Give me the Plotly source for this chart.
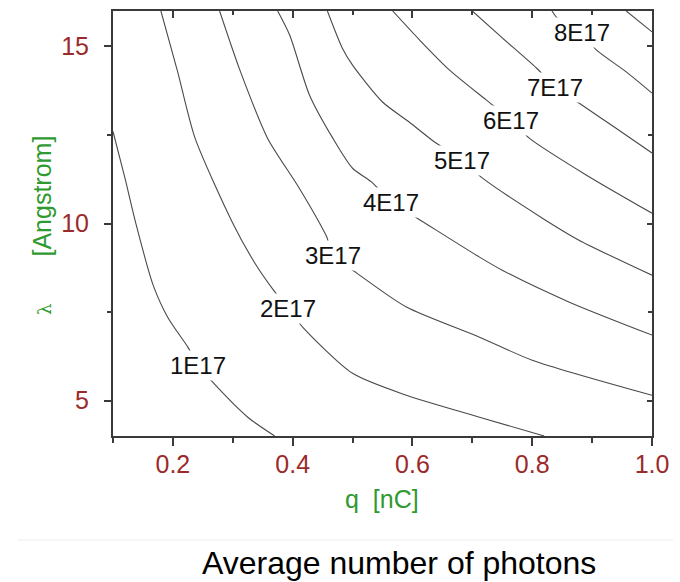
import plotly.graph_objects as go

# ---- data (q in nC, lambda in Angstrom) ----
q_1e17 = [0.100, 0.120, 0.138, 0.167, 0.192, 0.225, 0.242, 0.268, 0.325, 0.370]
lam_1e17 = [12.6, 11.28, 10.01, 8.26, 7.33, 6.51, 6.00, 5.49, 4.53, 4.00]

q_2e17 = [0.180, 0.208, 0.237, 0.300, 0.337, 0.368, 0.392, 0.417, 0.500, 0.590, 0.712, 0.820]
lam_2e17 = [16.0, 14.28, 12.41, 10.01, 8.88, 8.12, 7.61, 7.07, 5.77, 5.15, 4.53, 4.00]

q_3e17 = [0.278, 0.313, 0.358, 0.408, 0.445, 0.457, 0.467, 0.507, 0.590, 0.712, 0.800, 1.000]
lam_3e17 = [16.0, 14.28, 12.41, 11.08, 10.01, 9.62, 9.11, 8.60, 7.64, 6.79, 6.14, 5.15]

q_4e17 = [0.375, 0.395, 0.428, 0.467, 0.500, 0.532, 0.565, 0.608, 0.712, 0.750, 0.862, 1.000]
lam_4e17 = [16.0, 15.32, 13.63, 12.41, 11.56, 11.17, 10.60, 10.15, 9.05, 8.68, 7.78, 6.85]

q_5e17 = [0.458, 0.483, 0.500, 0.550, 0.595, 0.637, 0.682, 0.717, 0.817, 0.878, 1.000]
lam_5e17 = [16.0, 14.95, 14.47, 13.43, 12.86, 12.30, 11.79, 11.28, 10.15, 9.53, 8.54]

q_6e17 = [0.567, 0.612, 0.662, 0.723, 0.765, 0.795, 0.890, 1.000]
lam_6e17 = [16.0, 15.18, 14.33, 13.49, 12.92, 12.41, 11.37, 10.29]

q_7e17 = [0.700, 0.750, 0.807, 0.838, 0.878, 0.940, 1.000]
lam_7e17 = [16.0, 15.24, 14.39, 13.85, 13.40, 12.69, 11.99]

q_8e17 = [0.833, 0.842, 0.883, 0.907, 0.957, 1.000]
lam_8e17 = [16.0, 15.80, 15.38, 14.90, 14.28, 13.68]

q_9e17 = [0.957, 1.000]
lam_9e17 = [16.0, 15.41]

contour_q = [q_1e17, q_2e17, q_3e17, q_4e17, q_5e17, q_6e17, q_7e17, q_8e17, q_9e17]
contour_lam = [lam_1e17, lam_2e17, lam_3e17, lam_4e17, lam_5e17, lam_6e17, lam_7e17, lam_8e17, lam_9e17]

label_text = ["1E17", "2E17", "3E17", "4E17", "5E17", "6E17", "7E17", "8E17"]
label_q = [0.242, 0.392, 0.467, 0.565, 0.682, 0.765, 0.838, 0.883]
label_lam = [6.00, 7.61, 9.11, 10.60, 11.79, 12.92, 13.85, 15.38]

x_ticks = [0.2, 0.4, 0.6, 0.8, 1.0]
y_ticks = [5, 10, 15]

FONT = "Liberation Sans, Arial, sans-serif"
RED = "#9b2a2a"
GREEN = "#2f9a2f"
AXIS = "#3a3a3a"

fig = go.Figure()
for qs, ls in zip(contour_q, contour_lam):
    fig.add_trace(go.Scatter(x=qs, y=ls, mode="lines",
                             line=dict(color="#4a4a4a", width=1.1,
                                       shape="spline", smoothing=0.7),
                             showlegend=False, hoverinfo="skip"))

# dummy trace to show mirrored (inside-tick) top/right axes
fig.add_trace(go.Scatter(x=[None], y=[None], xaxis="x2", yaxis="y2",
                         showlegend=False, hoverinfo="skip"))

for t, xq, yl in zip(label_text, label_q, label_lam):
    fig.add_annotation(x=xq, y=yl, text=t, showarrow=False,
                       xanchor="center", yanchor="middle",
                       font=dict(family=FONT, size=24, color="#111111"),
                       bgcolor="white", borderpad=1)

common_x = dict(range=[0.1, 1.0], showgrid=False, zeroline=False,
                showline=True, linecolor=AXIS, linewidth=2)
common_y = dict(range=[4, 16], showgrid=False, zeroline=False,
                showline=True, linecolor=AXIS, linewidth=2)

fig.update_layout(
    width=680, height=582,
    margin=dict(l=113, r=28, t=11, b=146),
    paper_bgcolor="white", plot_bgcolor="white",
    font=dict(family=FONT),
    xaxis=dict(**common_x, tickmode="array", tickvals=x_ticks,
               ticktext=[f"{v:.1f}" for v in x_ticks],
               ticks="outside", ticklen=8, tickwidth=1.5, tickcolor=AXIS,
               tickfont=dict(size=25, color=RED, family=FONT),
               minor=dict(ticks="outside", ticklen=5, dtick=0.1, tick0=0.1,
                          tickcolor=AXIS, tickwidth=1.5),
               ticklabelstandoff=-3),
    yaxis=dict(**common_y, tickmode="array", tickvals=y_ticks,
               ticks="outside", ticklen=7, tickwidth=1.5, tickcolor=AXIS,
               tickfont=dict(size=25, color=RED, family=FONT),
               minor=dict(ticks="outside", ticklen=4, dtick=2.5, tick0=0,
                          tickcolor=AXIS, tickwidth=1.5),
               ticklabelstandoff=10),
    xaxis2=dict(**common_x, overlaying="x", side="top", anchor="y2",
                tickmode="array", tickvals=x_ticks, showticklabels=False,
                ticks="inside", ticklen=7, tickwidth=1.5, tickcolor=AXIS,
                minor=dict(ticks="inside", ticklen=4, dtick=0.1, tick0=0.1,
                           tickcolor=AXIS, tickwidth=1.5)),
    yaxis2=dict(**common_y, overlaying="y", side="right", anchor="x2",
                tickmode="array", tickvals=y_ticks, showticklabels=False,
                ticks="inside", ticklen=5, tickwidth=1.5, tickcolor=AXIS,
                minor=dict(ticks="inside", ticklen=4, dtick=2.5, tick0=0,
                           tickcolor=AXIS, tickwidth=1.5)),
)

# axis titles
fig.add_annotation(xref="paper", yref="paper", x=0.499, y=-0.148,
                   xanchor="center", yanchor="middle",
                   text="q\u00a0 [nC]", showarrow=False,
                   font=dict(family=FONT, size=25, color=GREEN))
fig.add_annotation(xref="paper", yref="paper", x=-0.1308, y=0.5647,
                   xanchor="center", yanchor="middle",
                   text="[Angstrom]", textangle=-90, showarrow=False,
                   font=dict(family=FONT, size=25, color=GREEN))
fig.add_annotation(xref="paper", yref="paper", x=-0.126, y=0.2965,
                   xanchor="center", yanchor="middle",
                   text="λ", textangle=-90, showarrow=False,
                   font=dict(family="DejaVu Serif, serif", size=18, color=GREEN))

# separator line and caption
fig.add_shape(type="line", xref="paper", yref="paper",
              x0=-0.176, x1=1.039, y0=-0.2447, y1=-0.2447,
              line=dict(color="#eeeeee", width=1))
fig.add_annotation(xref="paper", yref="paper", x=0.5306, y=-0.2988,
                   xanchor="center", yanchor="middle",
                   text="Average number of photons", showarrow=False,
                   font=dict(family=FONT, size=32, color="black"))

fig.write_html("out.html")
